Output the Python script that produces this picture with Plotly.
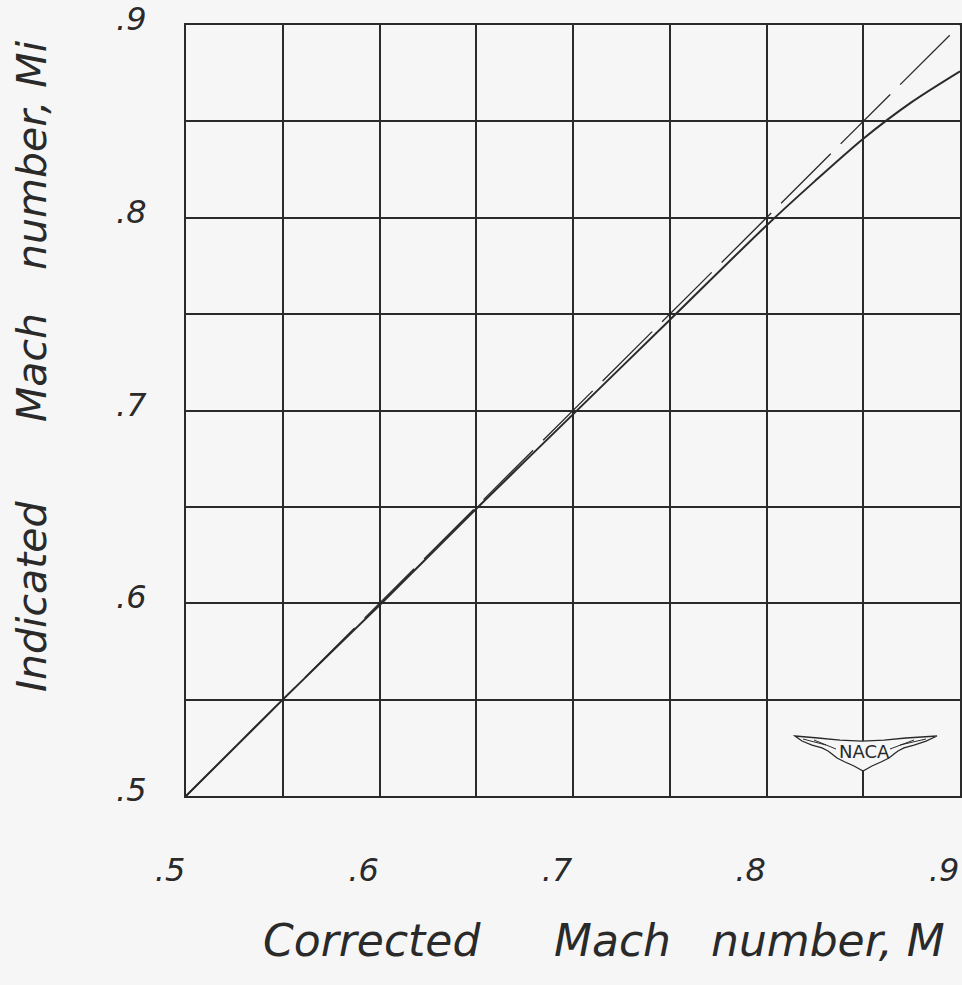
import plotly.graph_objects as go

# Corrected Mach number M and indicated Mach number Mi
mach_corrected = [0.50, 0.55, 0.60, 0.65, 0.70, 0.75, 0.80, 0.825, 0.85, 0.875, 0.90]
mach_indicated = [0.50, 0.550, 0.599, 0.649, 0.698, 0.747, 0.796, 0.819, 0.841, 0.860, 0.876]

# Line of perfect agreement, Mi = M
ideal_x = [0.50, 0.90]
ideal_y = [0.50, 0.90]

tick_vals = [0.5, 0.6, 0.7, 0.8, 0.9]
tick_text = [".5", ".6", ".7", ".8", ".9"]

INK = "#2a2a2a"
PAPER = "#f6f6f6"
FONT = "DejaVu Sans"

fig = go.Figure()

fig.add_trace(go.Scatter(
    x=ideal_x, y=ideal_y, mode="lines",
    line=dict(color=INK, width=1.3, dash="70px,14px"),
    showlegend=False, hoverinfo="skip",
))
fig.add_trace(go.Scatter(
    x=mach_corrected, y=mach_indicated, mode="lines",
    line=dict(color=INK, width=2, shape="spline", smoothing=0.8),
    showlegend=False, hoverinfo="skip",
))

axis_common = dict(
    range=[0.5, 0.9],
    tickvals=tick_vals,
    ticktext=tick_text,
    showgrid=True, gridcolor=INK, gridwidth=1.6,
    minor=dict(dtick=0.05, tick0=0.5, showgrid=True, gridcolor=INK, gridwidth=1.6),
    showline=True, linecolor=INK, linewidth=2, mirror=True,
    zeroline=False, ticks="",
    ticklabeloverflow="allow",
    automargin=False,
    tickfont=dict(family=FONT, size=32, color=INK, style="italic", weight=200),
)

fig.update_xaxes(**axis_common, ticklabelstandoff=45, ticklabelshift=-16)
fig.update_yaxes(**axis_common, ticklabelstandoff=31, ticklabelshift=-6)


# pixel -> paper helpers for decorations placed around the plot frame
def px(x):
    return (x - 186) / 774.0


def py(y):
    return (796 - y) / 771.0


# NACA wing emblem, lower right corner
wing_pts = [(795, 736), (818, 738), (840, 740), (862, 741), (884, 740), (906, 738), (937, 736),
            (926, 741), (914, 745), (904, 748), (898, 751), (894, 754),
            (889, 758), (881, 762), (872, 766), (863, 771),
            (854, 766), (845, 762), (837, 758), (832, 754), (828, 751), (822, 748),
            (812, 745), (802, 741)]
path = "M " + " L ".join(f"{px(a):.4f},{py(b):.4f}" for a, b in wing_pts) + " Z"
fig.add_shape(type="path", path=path, xref="paper", yref="paper",
              line=dict(color=INK, width=1.3), fillcolor=PAPER, layer="above")
# feather strokes on each wing
for (a0, b0, a1, b1) in [(803, 739, 826, 745), (814, 740, 836, 749),
                         (926, 739, 900, 745), (914, 740, 890, 749)]:
    fig.add_shape(type="line", x0=px(a0), y0=py(b0), x1=px(a1), y1=py(b1),
                  xref="paper", yref="paper", line=dict(color=INK, width=1), layer="above")
fig.add_annotation(x=px(864), y=py(751), xref="paper", yref="paper",
                   xanchor="center", yanchor="middle",
                   text="NACA", showarrow=False,
                   font=dict(family=FONT, size=18, color=INK))

# Axis titles, word by word with generous lettering spacing
title_font = dict(family=FONT, size=44, color=INK, style="italic", weight=200)
for word, cx in [("Corrected", 372), ("Mach", 612), ("number, M", 828)]:
    fig.add_annotation(x=px(cx), y=py(940), xref="paper", yref="paper",
                       xanchor="center", yanchor="middle",
                       text=word, showarrow=False, font=title_font)

ytitle_font = dict(family=FONT, size=41, color=INK, style="italic", weight=200)
for word, cy in [("Indicated", 597), ("Mach", 368), ("number, Mi", 155)]:
    fig.add_annotation(x=px(32), y=py(cy), xref="paper", yref="paper",
                       xanchor="center", yanchor="middle", textangle=-90,
                       text=word, showarrow=False, font=ytitle_font)

fig.update_layout(
    width=962, height=985,
    margin=dict(l=186, r=2, t=25, b=189),
    paper_bgcolor=PAPER, plot_bgcolor=PAPER,
)

fig.write_html("out.html")
